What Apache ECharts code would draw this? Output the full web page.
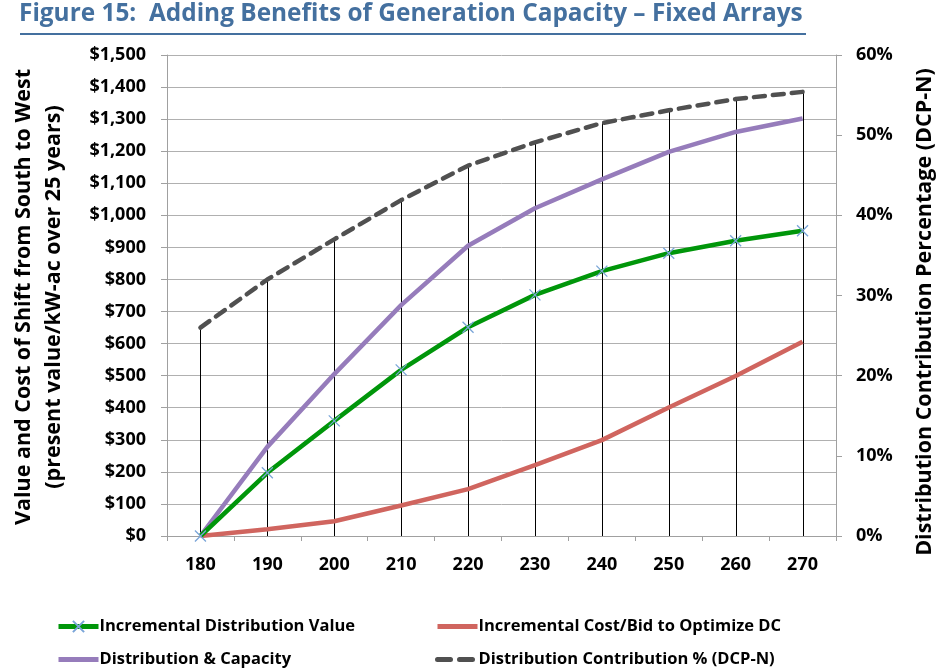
<!DOCTYPE html>
<html>
<head>
<meta charset="utf-8">
<script src="https://cdn.jsdelivr.net/npm/echarts@6/dist/echarts.min.js"></script>
<style>
html,body{margin:0;padding:0;background:#fff;}
#chart{width:949px;height:668px;}
</style>
</head>
<body>
<div id="chart"></div>
<script>
const categories = ['180','190','200','210','220','230','240','250','260','270'];
const incrementalValue = [0, 197, 359, 518, 651, 752, 826, 882, 921, 952];
const incrementalCost = [0, 21, 46, 95, 146, 221, 299, 401, 499, 606];
const distCapacity = [0, 278, 505, 720, 905, 1022, 1112, 1198, 1260, 1302];
const dcpN = [26.0, 32.0, 37.0, 41.9, 46.2, 49.1, 51.5, 53.1, 54.5, 55.4];

const titleText = 'Figure 15:  Adding Benefits of Generation Capacity \u2013 Fixed Arrays';
const leftAxisName = ['Value and Cost of Shift from South to West', '(present value/kW-ac over 25 years)'];
const rightAxisName = 'Distribution Contribution Percentage (DCP-N)';
const seriesNames = ['Incremental Distribution Value', 'Incremental Cost/Bid to Optimize DC', 'Distribution & Capacity', 'Distribution Contribution % (DCP-N)'];

const FONT = '"Open Sans", Lato, sans-serif';
const chart = echarts.init(document.getElementById('chart'), null, {renderer: 'canvas'});

const legendBase = {
  itemWidth: 40, itemHeight: 14, itemGap: 0, padding: 0,
  textStyle: {fontFamily: FONT, fontWeight: 'bold', fontSize: 16.5, color: '#000', padding: [0,0,0,-4]},
  lineStyle: {width: 5},
  selectedMode: false
};
const noSym = {color: 'rgba(0,0,0,0)', borderWidth: 0};

const option = {
  backgroundColor: '#fff',
  animation: false,
  title: {
    text: titleText, left: 19, top: 2, padding: 0,
    textStyle: {fontFamily: FONT, fontWeight: 'bold', fontSize: 24.4, color: '#44709f'}
  },
  graphic: [
    {type: 'line', shape: {x1: 20, y1: 34, x2: 806, y2: 34}, style: {stroke: '#44709f', lineWidth: 2}},
    {type: 'text', x: 24, y: 297, rotation: Math.PI/2,
      style: {text: leftAxisName[0], font: 'bold 21.5px ' + FONT, fill: '#000', align: 'center', verticalAlign: 'middle'}},
    {type: 'text', x: 54, y: 297, rotation: Math.PI/2,
      style: {text: leftAxisName[1], font: 'bold 21.5px ' + FONT, fill: '#000', align: 'center', verticalAlign: 'middle'}},
    {type: 'text', x: 925, y: 312, rotation: Math.PI/2,
      style: {text: rightAxisName, font: 'bold 21.5px ' + FONT, fill: '#000', align: 'center', verticalAlign: 'middle'}}
  ],
  legend: [
    Object.assign({}, legendBase, {data: [seriesNames[0]], left: 56, top: 618}),
    Object.assign({}, legendBase, {data: [seriesNames[1]], left: 435, top: 618, itemStyle: noSym}),
    Object.assign({}, legendBase, {data: [seriesNames[2]], left: 56, top: 651, itemStyle: noSym}),
    Object.assign({}, legendBase, {data: [seriesNames[3]], left: 435, top: 651, itemStyle: noSym,
      lineStyle: {width: 5, type: [13, 9], cap: 'round'}})
  ],
  grid: {left: 167, right: 113, top: 55, bottom: 132},
  xAxis: {
    type: 'category', data: categories, boundaryGap: true,
    axisLine: {lineStyle: {color: '#a0a0a0', width: 1}},
    axisTick: {show: true, length: 5, lineStyle: {color: '#a0a0a0'}},
    axisLabel: {fontFamily: FONT, fontWeight: 'bold', fontSize: 18, color: '#000', margin: 20},
    splitLine: {show: false}
  },
  yAxis: [
    {
      type: 'value', min: 0, max: 1500, interval: 100, position: 'left',
      axisLine: {show: true, lineStyle: {color: '#a0a0a0'}},
      axisTick: {show: true, length: 6, lineStyle: {color: '#a0a0a0'}},
      axisLabel: {fontFamily: FONT, fontWeight: 'bold', fontSize: 18, color: '#000', margin: 21,
        formatter: v => '$' + v.toLocaleString('en-US')},
      splitLine: {show: true, lineStyle: {color: '#b0b0b0', width: 1}}
    },
    {
      type: 'value', min: 0, max: 60, interval: 10, position: 'right',
      axisLine: {show: true, lineStyle: {color: '#a0a0a0'}},
      axisTick: {show: true, length: 6, lineStyle: {color: '#a0a0a0'}},
      axisLabel: {fontFamily: FONT, fontWeight: 'bold', fontSize: 18, color: '#000', margin: 20,
        formatter: v => v + '%'},
      splitLine: {show: false}
    }
  ],
  series: [
    {
      name: 'drop', type: 'custom', yAxisIndex: 1, z: 1, silent: true,
      data: dcpN.map((v, i) => [i, v]),
      encode: {x: 0, y: 1},
      renderItem: function (params, api) {
        const p1 = api.coord([api.value(0), api.value(1)]);
        const p2 = api.coord([api.value(0), 0]);
        return {type: 'line', shape: {x1: Math.round(p1[0]) + 0.5, y1: p1[1], x2: Math.round(p2[0]) + 0.5, y2: p2[1]},
          style: {stroke: '#000', lineWidth: 1}};
      }
    },
    {
      name: seriesNames[1], type: 'line', data: incrementalCost, yAxisIndex: 0, z: 3,
      symbol: 'none', color: '#d0655f',
      lineStyle: {color: '#d0655f', width: 4.5}
    },
    {
      name: seriesNames[2], type: 'line', data: distCapacity, yAxisIndex: 0, z: 3,
      symbol: 'none', color: '#967cbb',
      lineStyle: {color: '#967cbb', width: 4.5}
    },
    {
      name: seriesNames[0], type: 'line', data: incrementalValue, yAxisIndex: 0, z: 4,
      symbol: 'path://M0,0L10,10M10,0L0,10', symbolSize: 11, showSymbol: true,
      color: '#00960a',
      itemStyle: {color: 'rgba(0,0,0,0)', borderColor: '#7aa5d8', borderWidth: 1.3},
      lineStyle: {color: '#00960a', width: 4.5}
    },
    {
      name: seriesNames[3], type: 'line', data: dcpN, yAxisIndex: 1, z: 4,
      symbol: 'none', color: '#505050',
      lineStyle: {color: '#505050', width: 4.5, type: [11, 8], cap: 'round'}
    }
  ]
};
chart.setOption(option);
</script>
</body>
</html>
